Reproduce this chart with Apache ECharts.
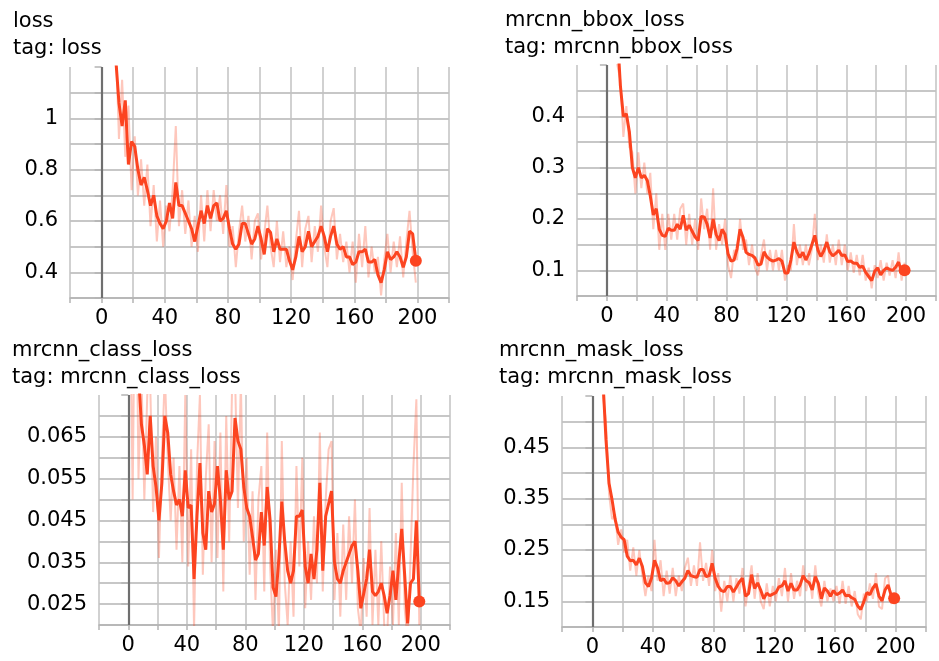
<!DOCTYPE html>
<html>
<head>
<meta charset="utf-8">
<script src="https://cdn.jsdelivr.net/npm/echarts@6/dist/echarts.min.js"></script>
<style>
  html, body { margin: 0; padding: 0; background: #fff; }
  #chart { width: 939px; height: 661px; }
</style>
</head>
<body>
<div id="chart"></div>
<script>
// training steps (shared by all four panels)
const steps = [
  1, 3, 5, 7, 9, 11, 13, 15, 17, 19, 21, 23, 25, 27, 29, 31, 33, 35, 37, 39,
  41, 43, 45, 47, 49, 51, 53, 55, 57, 59, 61, 63, 65, 67, 69, 71, 73, 75, 77, 79,
  81, 83, 85, 87, 89, 91, 93, 95, 97, 99, 101, 103, 105, 107, 109, 111, 113, 115, 117, 119,
  121, 123, 125, 127, 129, 131, 133, 135, 137, 139, 141, 143, 145, 147, 149, 151, 153, 155, 157, 159,
  161, 163, 165, 167, 169, 171, 173, 175, 177, 179, 181, 183, 185, 187, 189, 191, 193, 195, 197, 199
];

const lossSmooth = [
  2.2, 1.85, 1.6, 1.4, 1.23, 1.06, 0.97, 1.07, 0.82, 0.91,
  0.89, 0.80, 0.74, 0.77, 0.72, 0.66, 0.70, 0.62, 0.59, 0.57,
  0.60, 0.67, 0.61, 0.75, 0.66, 0.66, 0.63, 0.60, 0.57, 0.52,
  0.58, 0.64, 0.59, 0.66, 0.61, 0.66, 0.67, 0.60, 0.61, 0.64,
  0.57, 0.51, 0.49, 0.51, 0.59, 0.59, 0.55, 0.51, 0.53, 0.58,
  0.53, 0.47, 0.57, 0.555, 0.48, 0.53, 0.49, 0.49, 0.49, 0.445,
  0.41, 0.46, 0.54, 0.48, 0.50, 0.56, 0.50, 0.52, 0.54, 0.58,
  0.54, 0.48, 0.54, 0.58, 0.51, 0.49, 0.50, 0.46, 0.46, 0.43,
  0.44, 0.48, 0.48, 0.49, 0.44, 0.44, 0.45, 0.39, 0.36, 0.41,
  0.48, 0.45, 0.46, 0.48, 0.46, 0.42, 0.46, 0.56, 0.55, 0.445
];
const lossRaw = [
  2.3, 1.7, 1.7, 1.3, 1.3, 0.92, 1.15, 0.85, 1.05, 0.72,
  0.93, 0.70, 0.84, 0.66, 0.82, 0.58, 0.74, 0.52, 0.68, 0.50,
  0.66, 0.56, 0.72, 0.97, 0.58, 0.72, 0.55, 0.68, 0.50, 0.62,
  0.48, 0.70, 0.52, 0.72, 0.56, 0.72, 0.60, 0.70, 0.55, 0.74,
  0.50, 0.58, 0.42, 0.56, 0.66, 0.52, 0.62, 0.45, 0.60, 0.63,
  0.45, 0.55, 0.66, 0.50, 0.42, 0.60, 0.44, 0.56, 0.42, 0.50,
  0.37, 0.52, 0.64, 0.42, 0.57, 0.62, 0.44, 0.58, 0.48, 0.66,
  0.50, 0.42, 0.60, 0.65, 0.45, 0.55, 0.44, 0.52, 0.40, 0.52,
  0.36, 0.55, 0.42, 0.58, 0.38, 0.50, 0.40, 0.46, 0.31, 0.45,
  0.55, 0.40, 0.52, 0.42, 0.54, 0.38, 0.52, 0.64, 0.48, 0.36
];

const bboxSmooth = [
  0.9, 0.8, 0.68, 0.56, 0.46, 0.40, 0.405, 0.37, 0.30, 0.28,
  0.30, 0.28, 0.285, 0.275, 0.245, 0.208, 0.22, 0.18, 0.168, 0.166,
  0.182, 0.178, 0.178, 0.19, 0.18, 0.207, 0.178, 0.188, 0.176, 0.165,
  0.158, 0.205, 0.204, 0.19, 0.163, 0.20, 0.17, 0.158, 0.18, 0.17,
  0.132, 0.118, 0.12, 0.142, 0.18, 0.164, 0.135, 0.131, 0.129, 0.124,
  0.11, 0.112, 0.136, 0.126, 0.121, 0.118, 0.12, 0.123, 0.118, 0.095,
  0.095, 0.12, 0.155, 0.136, 0.125, 0.135, 0.12, 0.132, 0.15, 0.168,
  0.14, 0.127, 0.138, 0.155, 0.136, 0.128, 0.133, 0.139, 0.129, 0.13,
  0.117, 0.118, 0.114, 0.114, 0.106, 0.108, 0.096, 0.088, 0.08, 0.098,
  0.105, 0.091, 0.10, 0.105, 0.102, 0.10, 0.106, 0.116, 0.096, 0.10
];
const bboxRaw = [
  1.0, 0.7, 0.75, 0.5, 0.47, 0.36, 0.42, 0.34, 0.33, 0.25,
  0.33, 0.26, 0.31, 0.25, 0.29, 0.18, 0.25, 0.14, 0.21, 0.14,
  0.21, 0.16, 0.21, 0.16, 0.22, 0.23, 0.15, 0.21, 0.15, 0.20,
  0.14, 0.24, 0.18, 0.22, 0.14, 0.26, 0.14, 0.19, 0.15, 0.20,
  0.11, 0.085, 0.14, 0.12, 0.20, 0.14, 0.16, 0.11, 0.15, 0.105,
  0.09, 0.13, 0.16, 0.10, 0.14, 0.10, 0.14, 0.10, 0.14, 0.08,
  0.11, 0.10, 0.19, 0.11, 0.15, 0.11, 0.15, 0.11, 0.14, 0.21,
  0.12, 0.15, 0.115, 0.17, 0.115, 0.15, 0.11, 0.16, 0.11, 0.15,
  0.10, 0.135, 0.095, 0.13, 0.09, 0.13, 0.08, 0.105, 0.065, 0.11,
  0.085, 0.12, 0.08, 0.115, 0.09, 0.12, 0.085, 0.135, 0.08, 0.115
];

const classSmooth = [
  0.10, 0.095, 0.088, 0.08, 0.068, 0.063, 0.056, 0.070, 0.058, 0.053,
  0.045, 0.054, 0.070, 0.066, 0.056, 0.052, 0.0487, 0.050, 0.046, 0.057,
  0.048, 0.0487, 0.031, 0.046, 0.0587, 0.042, 0.038, 0.052, 0.047, 0.049,
  0.058, 0.050, 0.038, 0.057, 0.050, 0.052, 0.0695, 0.064, 0.062, 0.053,
  0.048, 0.046, 0.041, 0.0355, 0.037, 0.047, 0.039, 0.053, 0.045, 0.029,
  0.0268, 0.036, 0.0495, 0.040, 0.033, 0.030, 0.033, 0.046, 0.046, 0.0475,
  0.034, 0.030, 0.037, 0.031, 0.038, 0.054, 0.033, 0.046, 0.049, 0.052,
  0.035, 0.031, 0.030, 0.033, 0.035, 0.037, 0.039, 0.040, 0.033, 0.024,
  0.0275, 0.031, 0.038, 0.028, 0.027, 0.028, 0.030, 0.027, 0.0228, 0.027,
  0.033, 0.026, 0.035, 0.043, 0.032, 0.0204, 0.030, 0.031, 0.045, 0.0256
];
const classRaw = [
  0.11, 0.05, 0.12, 0.055, 0.08, 0.05, 0.075, 0.078, 0.047, 0.065,
  0.036, 0.06, 0.08, 0.06, 0.045, 0.06, 0.038, 0.058, 0.035, 0.075,
  0.034, 0.062, 0.019, 0.058, 0.075, 0.032, 0.055, 0.068, 0.035, 0.064,
  0.036, 0.066, 0.028, 0.07, 0.04, 0.077, 0.08, 0.048, 0.078, 0.04,
  0.06, 0.032, 0.052, 0.026, 0.05, 0.058, 0.028, 0.066, 0.034, 0.018,
  0.038, 0.018, 0.064, 0.03, 0.02, 0.04, 0.022, 0.058, 0.034, 0.06,
  0.024, 0.04, 0.026, 0.046, 0.03, 0.066, 0.028, 0.05, 0.062, 0.064,
  0.026, 0.042, 0.022, 0.044, 0.026, 0.046, 0.03, 0.05, 0.024, 0.018,
  0.036, 0.022, 0.048, 0.02, 0.038, 0.02, 0.04, 0.02, 0.017, 0.034,
  0.02, 0.042, 0.02, 0.054, 0.024, 0.016, 0.036, 0.058, 0.074, 0.02
];

const maskSmooth = [
  0.95, 0.8, 0.68, 0.58, 0.465, 0.38, 0.348, 0.31, 0.285, 0.275,
  0.27, 0.238, 0.229, 0.23, 0.221, 0.234, 0.218, 0.186, 0.179, 0.195,
  0.23, 0.215, 0.19, 0.194, 0.185, 0.186, 0.196, 0.19, 0.18, 0.188,
  0.195, 0.21, 0.2, 0.198, 0.197, 0.212, 0.212, 0.198, 0.20, 0.224,
  0.195, 0.179, 0.171, 0.169, 0.179, 0.179, 0.168, 0.178, 0.188, 0.195,
  0.16, 0.165, 0.202, 0.175, 0.186, 0.172, 0.155, 0.166, 0.161, 0.164,
  0.167, 0.178, 0.18, 0.19, 0.17, 0.185, 0.172, 0.172, 0.182, 0.2,
  0.19, 0.186, 0.172, 0.198, 0.185, 0.155, 0.176, 0.17, 0.16, 0.171,
  0.163, 0.166, 0.172, 0.161, 0.162, 0.157, 0.154, 0.141, 0.134, 0.149,
  0.167, 0.163, 0.176, 0.184, 0.16, 0.151, 0.172, 0.182, 0.162, 0.156
];
const maskRaw = [
  1.0, 0.75, 0.7, 0.55, 0.5, 0.36, 0.31, 0.32, 0.26, 0.29,
  0.245, 0.27, 0.21, 0.255, 0.2, 0.25, 0.2, 0.16, 0.2, 0.17,
  0.27, 0.19, 0.23, 0.16, 0.21, 0.165, 0.215, 0.16, 0.2, 0.17,
  0.215, 0.235, 0.18, 0.22, 0.18, 0.265, 0.19, 0.225, 0.18, 0.25,
  0.17, 0.205, 0.13, 0.19, 0.15, 0.2, 0.15, 0.195, 0.165, 0.215,
  0.14, 0.18, 0.22, 0.155, 0.205, 0.15, 0.135, 0.185, 0.14, 0.18,
  0.15, 0.195, 0.16, 0.215, 0.15, 0.205, 0.155, 0.19, 0.16, 0.22,
  0.17, 0.205, 0.155, 0.22, 0.165, 0.14, 0.19, 0.15, 0.175, 0.15,
  0.18, 0.145, 0.19, 0.145, 0.18, 0.14, 0.17, 0.125, 0.115, 0.165,
  0.15, 0.185, 0.155, 0.205, 0.14, 0.135, 0.195, 0.2, 0.145, 0.16
];

// tick labels that are printed
const xLabels = [0, 40, 80, 120, 160, 200];
const lossLabels = [0.4, 0.6, 0.8, 1];
const bboxLabels = [0.1, 0.2, 0.3, 0.4];
const classLabels = [0.025, 0.035, 0.045, 0.055, 0.065];
const maskLabels = [0.15, 0.25, 0.35, 0.45];

const FONT = "DejaVu Sans";
const GRID_COLOR = "#b4b4b4";
const LINE_COLOR = "#fc4420";

function pick(list) {
  return (v) => {
    const hit = list.find((t) => Math.abs(t - v) < 1e-7);
    return hit === undefined ? "" : String(hit);
  };
}

const panels = [
  { name: "loss", smooth: lossSmooth, raw: lossRaw, labels: lossLabels,
    min: 0.3, max: 1.2, interval: 0.1,
    grid: { left: 70, top: 67, width: 379, height: 231 }, title: { left: 13, top: 8 } },
  { name: "mrcnn_bbox_loss", smooth: bboxSmooth, raw: bboxRaw, labels: bboxLabels,
    min: 0.05, max: 0.5, interval: 0.05,
    grid: { left: 577, top: 65, width: 365, height: 231 }, title: { left: 505, top: 7 } },
  { name: "mrcnn_class_loss", smooth: classSmooth, raw: classRaw, labels: classLabels,
    min: 0.02, max: 0.075, interval: 0.005,
    grid: { left: 99, top: 395, width: 351, height: 230 }, title: { left: 12, top: 337 } },
  { name: "mrcnn_mask_loss", smooth: maskSmooth, raw: maskRaw, labels: maskLabels,
    min: 0.1, max: 0.55, interval: 0.05,
    grid: { left: 562, top: 396, width: 364, height: 231 }, title: { left: 499, top: 337 } },
];

const option = {
  animation: false,
  backgroundColor: "#fff",
  title: [],
  grid: [],
  xAxis: [],
  yAxis: [],
  series: [],
};

panels.forEach((p, i) => {
  option.title.push({
    text: p.name + "\ntag: " + p.name,
    left: p.title.left,
    top: p.title.top,
    padding: 0,
    textStyle: { fontFamily: FONT, fontSize: 21, fontWeight: "normal", color: "#000", lineHeight: 27 },
  });
  option.grid.push(Object.assign({ containLabel: false }, p.grid));

  // hide the line at the very top of the plot
  const nLines = Math.round((p.max - p.min) / p.interval) + 1;
  const splitColors = [];
  for (let k = 0; k < nLines - 1; k++) splitColors.push(GRID_COLOR);
  splitColors.push("rgba(0,0,0,0)");

  option.xAxis.push({
    type: "value",
    gridIndex: i,
    min: -20,
    max: 220,
    interval: 20,
    axisLine: { show: true, lineStyle: { color: GRID_COLOR, width: 1.5 } },
    axisTick: { show: true, length: 5, lineStyle: { color: GRID_COLOR, width: 1.5 } },
    axisLabel: { formatter: pick(xLabels), fontFamily: FONT, fontSize: 21, color: "#000", margin: 10 },
    splitLine: { show: true, lineStyle: { color: "#c2c2c2", width: 1.5 } },
  });
  option.yAxis.push({
    type: "value",
    gridIndex: i,
    min: p.min,
    max: p.max,
    interval: p.interval,
    axisLine: { show: false },
    axisTick: { show: true, length: 7, lineStyle: { color: GRID_COLOR, width: 1.5 } },
    axisLabel: { formatter: pick(p.labels), fontFamily: FONT, fontSize: 21, color: "#000", margin: 12 },
    splitLine: { show: true, lineStyle: { color: splitColors, width: 1.5 } },
  });

  const raw = steps.map((s, k) => [s, p.raw[k]]);
  const smooth = steps.map((s, k) => [s, p.smooth[k]]);
  option.series.push({
    type: "line",
    xAxisIndex: i,
    yAxisIndex: i,
    data: raw,
    showSymbol: false,
    lineStyle: { color: LINE_COLOR, width: 2, opacity: 0.3 },
    silent: true,
    z: 2,
  });
  option.series.push({
    type: "line",
    xAxisIndex: i,
    yAxisIndex: i,
    data: smooth,
    showSymbol: false,
    lineStyle: { color: LINE_COLOR, width: 3 },
    silent: true,
    z: 3,
    markLine: {
      silent: true,
      symbol: "none",
      label: { show: false },
      lineStyle: { color: "#6f6f6f", width: 2.2, type: "solid" },
      data: [{ xAxis: 0 }],
    },
  });
  // dot on the latest value
  option.series.push({
    type: "scatter",
    xAxisIndex: i,
    yAxisIndex: i,
    data: [smooth[smooth.length - 1]],
    symbolSize: 12,
    itemStyle: { color: LINE_COLOR, opacity: 1 },
    silent: true,
    z: 4,
  });
});

const chart = echarts.init(document.getElementById("chart"));
chart.setOption(option);
</script>
</body>
</html>
